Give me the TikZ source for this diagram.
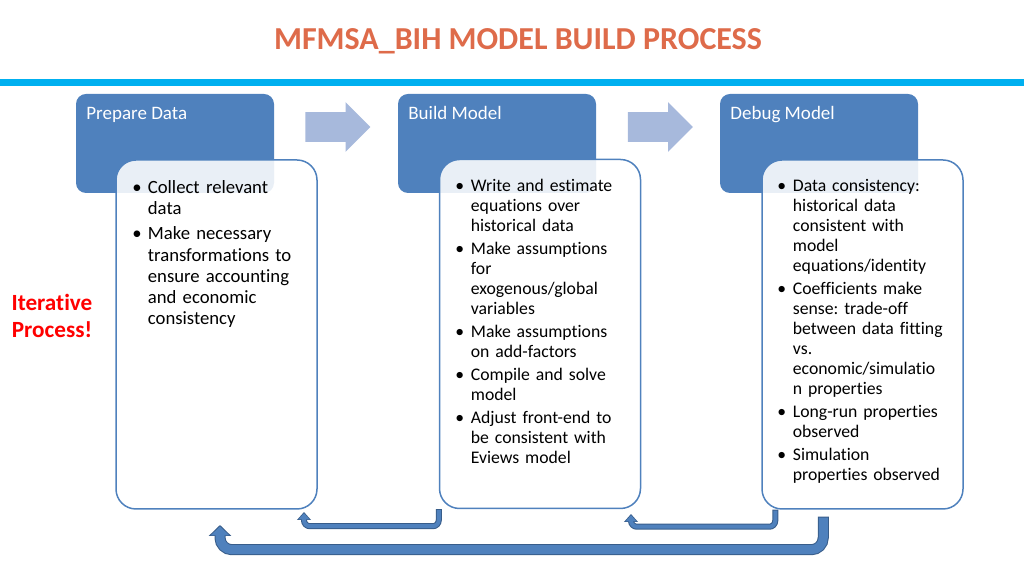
\documentclass[tikz,border=0pt]{standalone}
\usepackage{fontspec}
\setmainfont{Carlito}[Ligatures=NoCommon]
\usetikzlibrary{shapes.arrows,arrows.meta}

\definecolor{hdrblue}{RGB}{79,129,189}
\definecolor{arrowdark}{RGB}{56,93,138}
\definecolor{arrowpale}{RGB}{167,185,220}
\definecolor{rulecyan}{RGB}{0,176,240}
\definecolor{titleorange}{RGB}{222,107,74}

\frenchspacing
% bullet items with hanging indent
\newlength{\itemgap}
\newcommand{\bitem}[1]{\hangindent=7.75pt\hangafter=1\noindent\makebox[7.75pt][l]{\textbullet}#1\par}
\newcommand{\nitem}[1]{\vspace{\itemgap}\bitem{#1}}

\begin{document}
\begin{tikzpicture}[x=0.5pt,y=-0.5pt,
hdr/.style={rectangle,rounded corners=5pt,fill=hdrblue,draw=none,minimum width=99pt,minimum height=49.5pt,inner sep=0},
hdrtext/.style={anchor=base west,inner sep=0,text=white,font=\fontsize{9.5}{11.4}\selectfont},
card/.style={rectangle,rounded corners=10pt,draw=hdrblue,line width=0.75pt,fill=white,fill opacity=0.88,minimum width=100.5pt,minimum height=174.5pt,inner sep=0},
listtext/.style={anchor=base west,inner sep=0,text width=115pt,align=left},
listA/.style={listtext,font=\fontsize{9.35}{10.6}\selectfont\setlength{\itemgap}{2pt}},
listB/.style={listtext,font=\fontsize{8.85}{10}\selectfont\setlength{\itemgap}{1.5pt}},
flow/.style={single arrow,fill=arrowpale,draw=none,inner xsep=0pt,inner ysep=7.25pt,single arrow head extend=5pt,minimum height=32.5pt},
retout/.style={draw=arrowdark,line width=3pt,rounded corners=3pt,-{Triangle[length=4pt,width=6.8pt]}},
retin/.style={draw=hdrblue,line width=2pt,rounded corners=3pt,shorten <=0.5pt,shorten >=0.6pt,-{Triangle[length=3.1pt,width=5.3pt]}},
retbigout/.style={draw=arrowdark,line width=5.5pt,rounded corners=6pt,-{Triangle[length=5.5pt,width=11pt]}},
retbigin/.style={draw=hdrblue,line width=4.5pt,rounded corners=6pt,shorten <=0.5pt,shorten >=0.7pt,-{Triangle[length=4.5pt,width=9pt]}}]

\useasboundingbox (0,0) rectangle (1024,576);

% Title
\node[anchor=base,inner sep=0,text=titleorange,font=\fontsize{16}{19}\selectfont\bfseries] (title) at (518,50) {MFMSA\_BIH MODEL BUILD PROCESS};
\draw[rulecyan,line width=3.5pt] (0,82.5) -- (1024,82.5);

% Headers
\node[hdr] (prepHdr) at (175,143.5) {};
\node[hdr] (buildHdr) at (497,143.5) {};
\node[hdr] (debugHdr) at (819,143.5) {};
\node[hdrtext] (prepLbl) at (86,120) {Prepare Data};
\node[hdrtext] (buildLbl) at (408,120) {Build Model};
\node[hdrtext] (debugLbl) at (730,120) {Debug Model};

% Flow arrows
\node[flow] (flowA) at (330.5,127) {};
\node[flow] (flowB) at (653,127) {};

% Cards
\node[card] (prepCard) at (216.5,334.5) {};
\node[card] (buildCard) at (540,334) {};
\node[card] (debugCard) at (862.5,334.5) {};

\node[listA] (prepText) at (132,193.5) {%
\bitem{Collect relevant\newline data}
\nitem{Make necessary\newline transformations to\newline ensure accounting\newline and economic\newline consistency}};

\node[listB] (buildText) at (455,191.5) {%
\bitem{Write and estimate\newline equations over\newline historical data}
\nitem{Make assumptions\newline for\newline exogenous/global\newline variables}
\nitem{Make assumptions\newline on add-factors}
\nitem{Compile and solve\newline model}
\nitem{Adjust front-end to\newline be consistent with\newline Eviews model}};

\node[listB] (debugText) at (777,191.5) {%
\bitem{Data consistency:\newline historical data\newline consistent with\newline model\newline equations/identity}
\nitem{Coefficients make\newline sense: trade-off\newline between data fitting\newline vs.\newline economic/simulatio\newline n properties}
\nitem{Long-run properties\newline observed}
\nitem{Simulation\newline properties observed}};

% Iterative
\node[anchor=base,inner sep=0,text width=60pt,align=center,text=red,font=\fontsize{11.6}{13.3}\selectfont\bfseries] (iterLbl) at (52,310.7) {Iterative\\Process!};

% Return arrows
\coordinate (prepTip) at (304,512);
\coordinate (buildTip) at (631,514);
\coordinate (prepBigTip) at (220,525);
\draw[retout] (buildCard.south west) -- ++(0,17) -| (prepTip);
\draw[retin] (buildCard.south west) -- ++(0,17) -| (prepTip);
\draw[retout] ([xshift=7pt]debugCard.south west) -- ++(0,17) -| (buildTip);
\draw[retin] ([xshift=7pt]debugCard.south west) -- ++(0,17) -| (buildTip);
\draw[retbigout] ([xshift=31pt,yshift=-3.5pt]debugCard.south west) -- ++(0,33) -| (prepBigTip);
\draw[retbigin] ([xshift=31pt,yshift=-3.5pt]debugCard.south west) -- ++(0,33) -| (prepBigTip);

\end{tikzpicture}
\end{document}
